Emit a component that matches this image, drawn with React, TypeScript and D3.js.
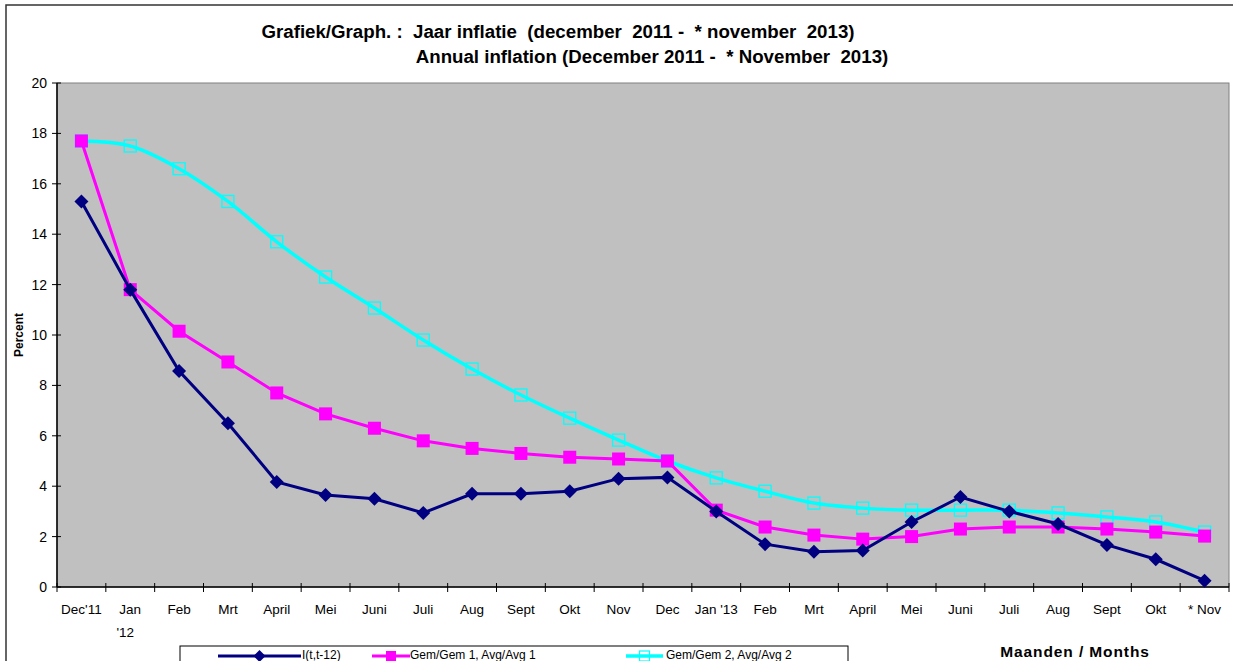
import * as d3 from "d3";
import { useEffect, useRef } from "react";

const months = [
  "Dec'11", "Jan|'12", "Feb", "Mrt", "April", "Mei", "Juni", "Juli", "Aug", "Sept", "Okt", "Nov",
  "Dec", "Jan '13", "Feb", "Mrt", "April", "Mei", "Juni", "Juli", "Aug", "Sept", "Okt", "* Nov",
];
const inflation = [15.3, 11.8, 8.57, 6.5, 4.17, 3.65, 3.5, 2.94, 3.7, 3.7, 3.8, 4.3, 4.35, 3.0, 1.7, 1.4, 1.45, 2.58, 3.57, 3.0, 2.5, 1.67, 1.1, 0.25];
const avg1 = [17.7, 11.8, 10.15, 8.93, 7.7, 6.87, 6.3, 5.8, 5.5, 5.3, 5.15, 5.08, 5.0, 3.05, 2.38, 2.06, 1.9, 2.0, 2.3, 2.38, 2.38, 2.3, 2.18, 2.02];
const avg2 = [17.7, 17.5, 16.6, 15.3, 13.7, 12.3, 11.07, 9.8, 8.65, 7.62, 6.7, 5.83, 5.0, 4.33, 3.8, 3.33, 3.13, 3.05, 3.05, 3.05, 2.94, 2.78, 2.58, 2.18];
const yTicks = [0, 2, 4, 6, 8, 10, 12, 14, 16, 18, 20];
const legendLabels = ["I(t,t-12)", "Gem/Gem 1, Avg/Avg 1", "Gem/Gem 2, Avg/Avg 2"];

const W = 1233;
const H = 661;

export default function App() {
  const svgRef = useRef<SVGSVGElement | null>(null);

  useEffect(() => {
    const svg = d3.select(svgRef.current);
    svg.selectAll("*").remove();
    svg.attr("width", W).attr("height", H).style("font-family", "Arial, 'Liberation Sans', sans-serif");

    const plot = { left: 57, top: 83, right: 1229, bottom: 587 };

    // outer frame
    svg.append("rect").attr("x", 6).attr("y", 5).attr("width", 1240).attr("height", 700)
      .attr("fill", "#fff").attr("stroke", "#333").attr("stroke-width", 1.5);

    const x = d3.scaleBand<number>().domain(d3.range(months.length)).range([plot.left, plot.right]);
    const cx = (i: number) => x(i)! + x.bandwidth() / 2;
    const y = d3.scaleLinear().domain([0, 20]).range([plot.bottom, plot.top]);

    svg.append("rect").attr("x", plot.left).attr("y", plot.top)
      .attr("width", plot.right - plot.left).attr("height", plot.bottom - plot.top)
      .attr("fill", "#c0c0c0").attr("stroke", "#808080").attr("stroke-width", 1);

    // y axis
    const yAxis = svg.append("g");
    yAxis.append("line").attr("x1", plot.left).attr("x2", plot.left).attr("y1", plot.top).attr("y2", plot.bottom)
      .attr("stroke", "#000").attr("stroke-width", 1.5);
    yTicks.forEach(t => {
      yAxis.append("line").attr("x1", plot.left - 5).attr("x2", plot.left + 4).attr("y1", y(t)).attr("y2", y(t))
        .attr("stroke", "#000");
      yAxis.append("text").attr("x", plot.left - 10).attr("y", y(t) + 5).attr("text-anchor", "end")
        .attr("font-size", 14).text(t);
    });

    // x axis
    const xAxis = svg.append("g");
    xAxis.append("line").attr("x1", plot.left).attr("x2", plot.right).attr("y1", plot.bottom).attr("y2", plot.bottom)
      .attr("stroke", "#000").attr("stroke-width", 1.5);
    d3.range(months.length + 1).forEach(i => {
      const px = plot.left + i * x.step();
      xAxis.append("line").attr("x1", px).attr("x2", px).attr("y1", plot.bottom - 4).attr("y2", plot.bottom + 5)
        .attr("stroke", "#000");
    });
    months.forEach((m, i) => {
      const parts = m.split("|");
      parts.forEach((p, k) => {
        xAxis.append("text").attr("x", cx(i) + (k === 1 ? -5 : 0)).attr("y", 614 + k * 23)
          .attr("text-anchor", "middle").attr("font-size", 13.5).text(p);
      });
    });

    // titles
    svg.append("text").attr("x", 558).attr("y", 38).attr("text-anchor", "middle")
      .attr("font-size", 18.7).attr("font-weight", "bold").attr("xml:space", "preserve")
      .text("Grafiek/Graph. :  Jaar inflatie  (december  2011 -  * november  2013)");
    svg.append("text").attr("x", 652).attr("y", 63).attr("text-anchor", "middle")
      .attr("font-size", 18.7).attr("font-weight", "bold").attr("xml:space", "preserve")
      .text("Annual inflation (December 2011 -  * November  2013)");
    svg.append("text").attr("transform", "translate(23,335) rotate(-90)").attr("text-anchor", "middle")
      .attr("font-size", 12).attr("font-weight", "bold").text("Percent");
    svg.append("text").attr("x", 1075).attr("y", 657).attr("text-anchor", "middle")
      .attr("font-size", 15.5).attr("font-weight", "bold").attr("letter-spacing", 0.9).text("Maanden / Months");

    const line = d3.line<number>().x((_, i) => cx(i)).y(d => y(d));
    const smooth = d3.line<number>().x((_, i) => cx(i)).y(d => y(d)).curve(d3.curveCatmullRom.alpha(0.5));

    const diamond = (g: d3.Selection<SVGGElement, unknown, null, undefined>, px: number, py: number, r: number) =>
      g.append("path").attr("d", `M${px},${py - r}L${px + r},${py}L${px},${py + r}L${px - r},${py}Z`);

    // avg2 (cyan)
    const g2 = svg.append("g");
    g2.append("path").datum(avg2).attr("d", smooth).attr("fill", "none").attr("stroke", "#00ffff").attr("stroke-width", 3.5);
    avg2.forEach((v, i) => {
      g2.append("rect").attr("x", cx(i) - 6).attr("y", y(v) - 6).attr("width", 12).attr("height", 12)
        .attr("fill", "none").attr("stroke", "#00ffff").attr("stroke-width", 1.3);
    });

    // avg1 (magenta)
    const g1 = svg.append("g");
    g1.append("path").datum(avg1).attr("d", line).attr("fill", "none").attr("stroke", "#ff00ff").attr("stroke-width", 3);
    avg1.forEach((v, i) => {
      g1.append("rect").attr("x", cx(i) - 6.5).attr("y", y(v) - 6.5).attr("width", 13).attr("height", 13)
        .attr("fill", "#ff00ff");
    });

    // inflation (navy)
    const g0 = svg.append("g");
    g0.append("path").datum(inflation).attr("d", line).attr("fill", "none").attr("stroke", "#000080").attr("stroke-width", 3);
    inflation.forEach((v, i) => {
      diamond(g0, cx(i), y(v), 7).attr("fill", "#000080");
    });

    // legend
    const lg = svg.append("g");
    lg.append("rect").attr("x", 180).attr("y", 646).attr("width", 668).attr("height", 40)
      .attr("fill", "#fff").attr("stroke", "#000").attr("stroke-width", 1);
    const ly = 656;
    const entries = [
      { x1: 218, x2: 301, tx: 302 },
      { x1: 372, x2: 410, tx: 410 },
      { x1: 626, x2: 663, tx: 666 },
    ];
    // navy
    lg.append("line").attr("x1", entries[0].x1).attr("x2", entries[0].x2).attr("y1", ly).attr("y2", ly)
      .attr("stroke", "#000080").attr("stroke-width", 3);
    diamond(lg, (entries[0].x1 + entries[0].x2) / 2, ly, 6).attr("fill", "#000080");
    // magenta
    lg.append("line").attr("x1", entries[1].x1).attr("x2", entries[1].x2).attr("y1", ly).attr("y2", ly)
      .attr("stroke", "#ff00ff").attr("stroke-width", 3);
    lg.append("rect").attr("x", (entries[1].x1 + entries[1].x2) / 2 - 5).attr("y", ly - 5).attr("width", 10).attr("height", 10)
      .attr("fill", "#ff00ff");
    // cyan
    lg.append("line").attr("x1", entries[2].x1).attr("x2", entries[2].x2).attr("y1", ly).attr("y2", ly)
      .attr("stroke", "#00ffff").attr("stroke-width", 3.5);
    lg.append("rect").attr("x", (entries[2].x1 + entries[2].x2) / 2 - 5).attr("y", ly - 5).attr("width", 10).attr("height", 10)
      .attr("fill", "none").attr("stroke", "#00ffff").attr("stroke-width", 1.2);
    legendLabels.forEach((t, i) => {
      lg.append("text").attr("x", entries[i].tx).attr("y", 659).attr("font-size", 12).text(t);
    });
  }, []);

  return (
    <div style={{ position: "absolute", left: 0, top: 0, width: W, height: H, overflow: "hidden" }}>
      <svg ref={svgRef} style={{ display: "block" }} />
    </div>
  );
}
